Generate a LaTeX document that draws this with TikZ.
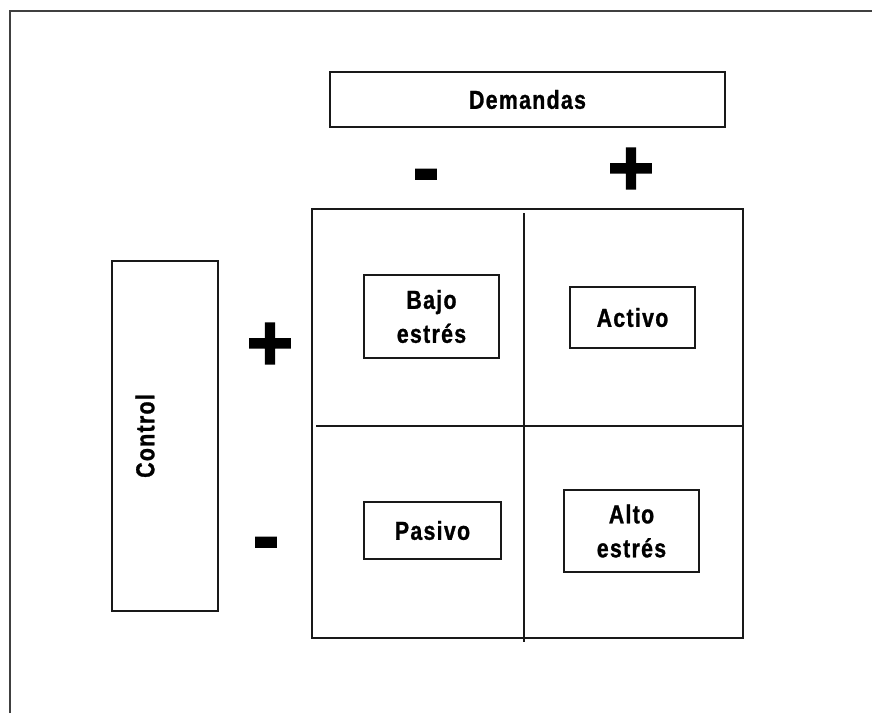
\documentclass[tikz,border=0pt]{standalone}
\usepackage{fontspec}
\setmainfont{Liberation Sans}
\newfontfamily\narrowfont[FakeStretch=0.82, LetterSpace=5, BoldFont={Liberation Sans Bold}, BoldFeatures={FakeStretch=0.82, LetterSpace=5, FakeBold=1}]{Liberation Sans}
\newfontfamily\signfont[FakeBold=2]{Liberation Sans Bold}
\begin{document}
\begin{tikzpicture}[x=1pt,y=-1pt,
  frame/.style={line width=2.5pt, draw=black!75},
  box/.style={draw=black!90, line width=1.5pt, rectangle, inner sep=0pt, align=center,
    font=\narrowfont\bfseries\fontsize{26}{34}\selectfont},
  lbl/.style={inner sep=0pt, align=center, font=\narrowfont\bfseries\fontsize{26}{34}\selectfont},
  sign/.style={font=\signfont\fontsize{80}{80}\selectfont, inner sep=0pt, anchor=base},
  divider/.style={line width=1.5pt, draw=black!90}]
\useasboundingbox (0,0) rectangle (872,713);
\draw[frame] (10,713) -- (10,11) -- (872,11);

% Demandas header
\node[box, minimum width=395pt, minimum height=55pt] (dem) at (527.5,99.5) {Demandas};
\node[sign] (dmin) at (426,195) {-};
\node[sign] (dplus) at (631,195) {+};

% Control
\node[box, minimum width=106pt, minimum height=350pt] (ctrl) at (165,436) {};
\node[lbl, rotate=90] (ctrltxt) at (145,436) {Control};
\node[sign] (cplus) at (270,370) {+};
\node[sign] (cmin) at (266,563) {-};

% Grid
\node[draw=black!90, line width=1.5pt, minimum width=431pt, minimum height=429pt, inner sep=0pt] (grid) at (527.5,423.5) {};
\coordinate (vt) at (524,213);
\coordinate (vb) at (524,642);
\coordinate (hl) at (316,426);
\coordinate (hr) at (743,426);
\draw[divider] (vt) -- (vb);
\draw[divider] (hl) -- (hr);

% Quadrant boxes
\node[box, minimum width=135pt, minimum height=83pt] (bajo) at (431.5,316.5) {Bajo\\estrés};
\node[box, minimum width=125pt, minimum height=61pt] (activo) at (632.5,317.5) {Activo};
\node[box, minimum width=137pt, minimum height=57pt] (pasivo) at (432.5,530.5) {Pasivo};
\node[box, minimum width=135pt, minimum height=82pt] (alto) at (631.5,531) {Alto\\estrés};
\end{tikzpicture}
\end{document}
